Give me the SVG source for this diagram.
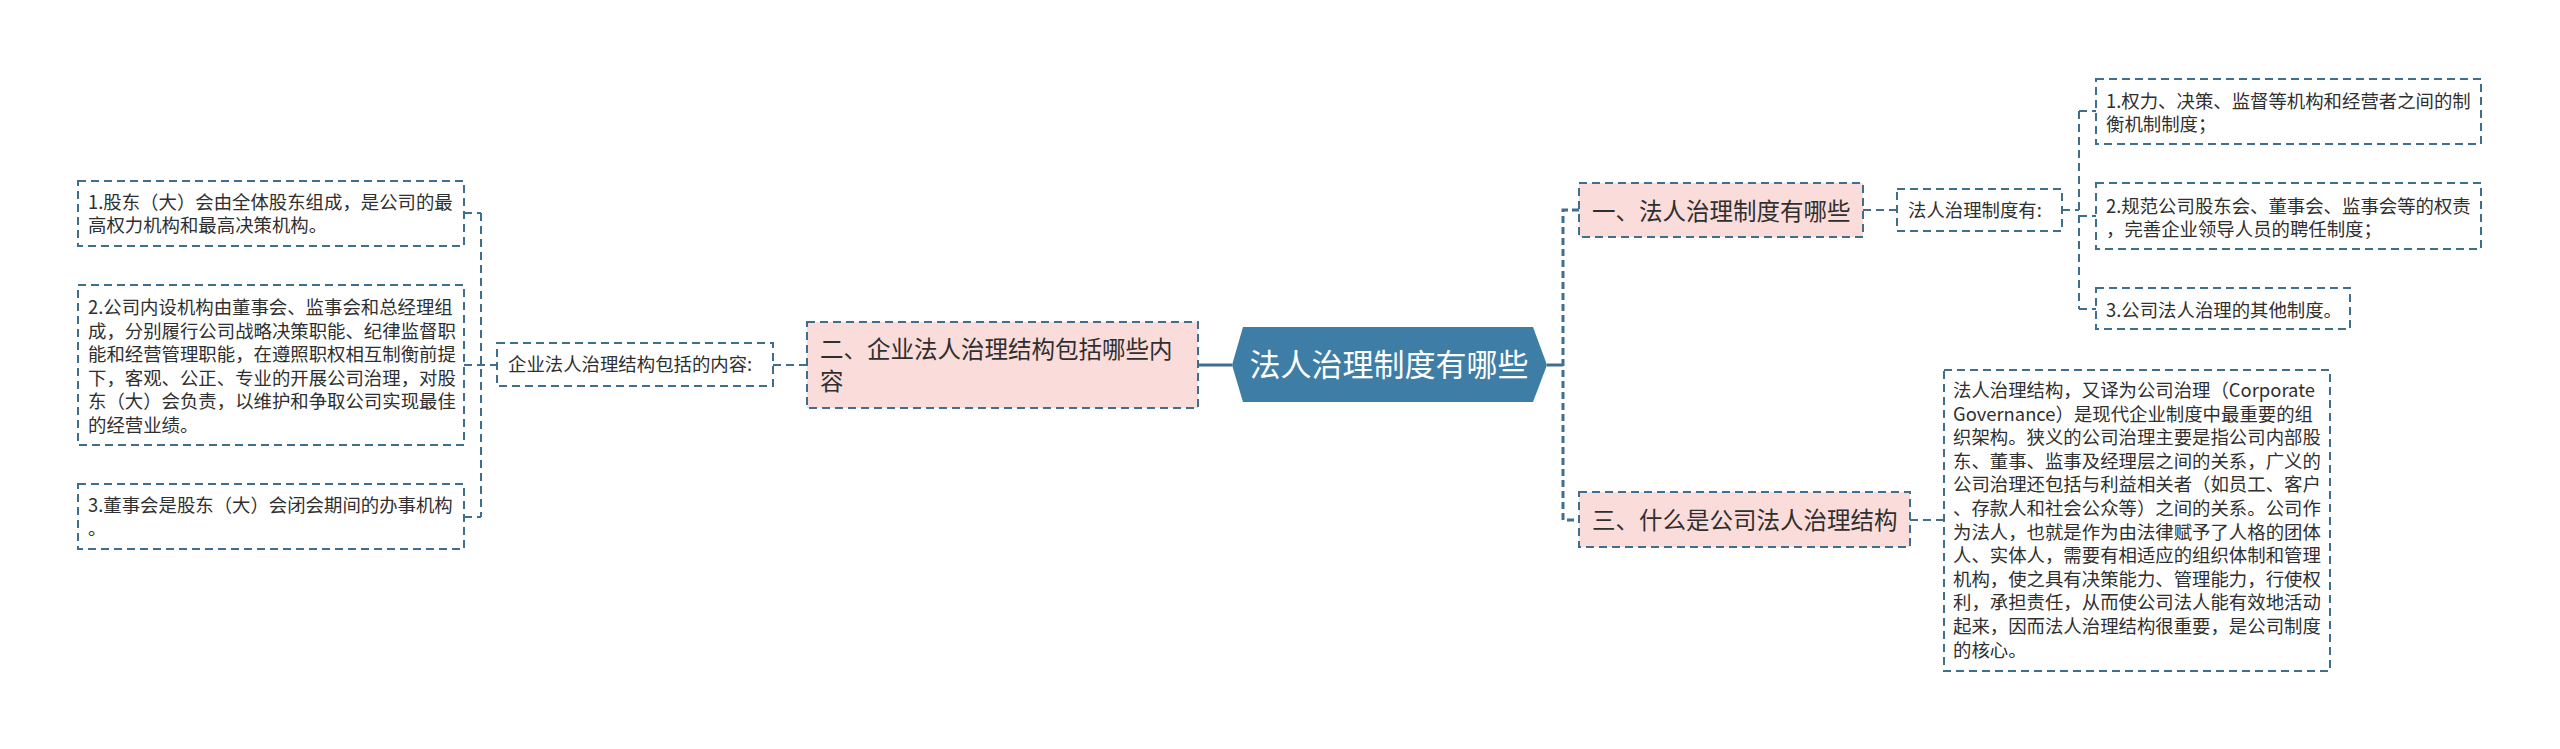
<svg xmlns="http://www.w3.org/2000/svg" width="2560" height="749" viewBox="0 0 2560 749">
<style>
.bg{fill:#ffffff}
.box{fill:#ffffff;stroke:#3f6f8e;stroke-width:2;stroke-dasharray:8 5}
.pink{fill:#fadcda;stroke:#3f6f8e;stroke-width:2;stroke-dasharray:8 5}
.hex{fill:#3e7ea6}
.t{font-family:"Noto Sans CJK SC","Noto Sans",sans-serif;font-size:18.4px;fill:#2f2f2f}
.tp{font-family:"Noto Sans CJK SC","Noto Sans",sans-serif;font-size:23.5px;fill:#2f2f2f}
.th{font-family:"Noto Sans CJK SC","Noto Sans",sans-serif;font-size:31px;fill:#ffffff}
.c{fill:none;stroke:#3f6f8e;stroke-width:2;stroke-dasharray:8 5}
.cb{fill:none;stroke:#3f6f8e;stroke-width:3;stroke-dasharray:7 4}
.cs{fill:none;stroke:#3f6f8e;stroke-width:3}
</style>
<rect class="bg" x="0" y="0" width="2560" height="749"/>
<g id="connectors">
  <path class="cs" d="M1198 365 H1232"/>
  <path class="c" d="M773 365 H807"/>
  <path class="c" d="M464 365 H497"/>
  <path class="c" d="M481 213 V517"/>
  <path class="c" d="M464 213 H481"/>
  <path class="c" d="M464 517 H481"/>
  <path class="cs" d="M1547 365 H1563"/>
  <path class="cb" d="M1579 210 H1563 V520 H1579"/>
  <path class="c" d="M1863 210 H1897"/>
  <path class="c" d="M2062 210 H2079"/>
  <path class="c" d="M2079 111 V309"/>
  <path class="c" d="M2079 111 H2096"/>
  <path class="c" d="M2079 216 H2096"/>
  <path class="c" d="M2079 309 H2096"/>
  <path class="c" d="M1910 520 H1944"/>
</g>
<g id="root">
  <polygon class="hex" points="1232,365 1243,327 1533,327 1547,365 1533,402 1243,402"/>
  <text class="th" x="1389" y="376" text-anchor="middle">法人治理制度有哪些</text>
</g>
<g id="n2">
  <rect class="pink" x="807" y="322" width="391" height="86"/>
  <text class="tp" x="820" y="358">二、企业法人治理结构包括哪些内</text>
  <text class="tp" x="820" y="390">容</text>
</g>
<g id="n2a">
  <rect class="box" x="497" y="343" width="276" height="43"/>
  <text class="t" x="508" y="371">企业法人治理结构包括的内容:</text>
</g>
<g id="n2a1">
  <rect class="box" x="78" y="181" width="386" height="65"/>
  <text class="t" x="88" y="209">1.股东（大）会由全体股东组成，是公司的最</text>
  <text class="t" x="88" y="232">高权力机构和最高决策机构。</text>
</g>
<g id="n2a2">
  <rect class="box" x="78" y="285" width="386" height="160"/>
  <text class="t" x="88" y="314">2.公司内设机构由董事会、监事会和总经理组</text>
  <text class="t" x="88" y="337.5">成，分别履行公司战略决策职能、纪律监督职</text>
  <text class="t" x="88" y="361">能和经营管理职能，在遵照职权相互制衡前提</text>
  <text class="t" x="88" y="384.5">下，客观、公正、专业的开展公司治理，对股</text>
  <text class="t" x="88" y="408">东（大）会负责，以维护和争取公司实现最佳</text>
  <text class="t" x="88" y="431.5">的经营业绩。</text>
</g>
<g id="n2a3">
  <rect class="box" x="78" y="484" width="386" height="65"/>
  <text class="t" x="88" y="512">3.董事会是股东（大）会闭会期间的办事机构</text>
  <text class="t" x="88" y="535">。</text>
</g>
<g id="n1">
  <rect class="pink" x="1579" y="183" width="284" height="54"/>
  <text class="tp" x="1592" y="220">一、法人治理制度有哪些</text>
</g>
<g id="n1a">
  <rect class="box" x="1897" y="189" width="165" height="42"/>
  <text class="t" x="1908" y="217">法人治理制度有:</text>
</g>
<g id="n1a1">
  <rect class="box" x="2096" y="79" width="385" height="65"/>
  <text class="t" x="2106" y="108">1.权力、决策、监督等机构和经营者之间的制</text>
  <text class="t" x="2106" y="131">衡机制制度；</text>
</g>
<g id="n1a2">
  <rect class="box" x="2096" y="183" width="385" height="66"/>
  <text class="t" x="2106" y="213">2.规范公司股东会、董事会、监事会等的权责</text>
  <text class="t" x="2106" y="236">，完善企业领导人员的聘任制度；</text>
</g>
<g id="n1a3">
  <rect class="box" x="2096" y="288" width="254" height="41"/>
  <text class="t" x="2106" y="317">3.公司法人治理的其他制度。</text>
</g>
<g id="n3">
  <rect class="pink" x="1579" y="492" width="331" height="55"/>
  <text class="tp" x="1592" y="529">三、什么是公司法人治理结构</text>
</g>
<g id="n3a">
  <rect class="box" x="1944" y="370" width="386" height="301"/>
  <text class="t" x="1953" y="397">法人治理结构，又译为公司治理（Corporate</text>
  <text class="t" x="1953" y="420.6">Governance）是现代企业制度中最重要的组</text>
  <text class="t" x="1953" y="444.2">织架构。狭义的公司治理主要是指公司内部股</text>
  <text class="t" x="1953" y="467.8">东、董事、监事及经理层之间的关系，广义的</text>
  <text class="t" x="1953" y="491.4">公司治理还包括与利益相关者（如员工、客户</text>
  <text class="t" x="1953" y="515">、存款人和社会公众等）之间的关系。公司作</text>
  <text class="t" x="1953" y="538.6">为法人，也就是作为由法律赋予了人格的团体</text>
  <text class="t" x="1953" y="562.2">人、实体人，需要有相适应的组织体制和管理</text>
  <text class="t" x="1953" y="585.8">机构，使之具有决策能力、管理能力，行使权</text>
  <text class="t" x="1953" y="609.4">利，承担责任，从而使公司法人能有效地活动</text>
  <text class="t" x="1953" y="633">起来，因而法人治理结构很重要，是公司制度</text>
  <text class="t" x="1953" y="656.6">的核心。</text>
</g>
</svg>
